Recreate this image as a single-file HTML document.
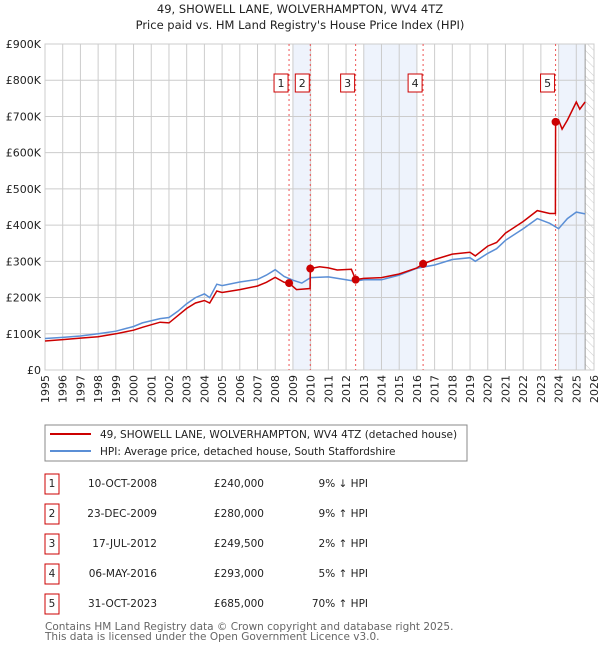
<!DOCTYPE html>
<html><head><meta charset="utf-8"><style>
body{margin:0;background:#fff;font-family:"DejaVu Sans","Liberation Sans",sans-serif;}
svg text{font-family:"DejaVu Sans","Liberation Sans",sans-serif;}
</style></head><body>
<svg id="c" width="600" height="650" xmlns="http://www.w3.org/2000/svg">
<defs><pattern id="hatch" width="6" height="6" patternUnits="userSpaceOnUse" patternTransform="rotate(-45)"><line x1="0" y1="0" x2="0" y2="6" stroke="#ccc" stroke-width="1"/></pattern></defs>
<text x="300" y="13" text-anchor="middle" font-size="11.5" fill="#222">49, SHOWELL LANE, WOLVERHAMPTON, WV4 4TZ</text>
<text x="300" y="29" text-anchor="middle" font-size="11.5" fill="#222">Price paid vs. HM Land Registry's House Price Index (HPI)</text>
<g id="plot"></g>
<rect x="45" y="425" width="422" height="36" fill="#fff" stroke="#888"/>
<line x1="50" y1="434" x2="91" y2="434" stroke="#cc0000" stroke-width="2"/>
<text x="100" y="438" font-size="10.5" fill="#222">49, SHOWELL LANE, WOLVERHAMPTON, WV4 4TZ (detached house)</text>
<line x1="50" y1="451" x2="91" y2="451" stroke="#5b8fd6" stroke-width="2"/>
<text x="100" y="455" font-size="10.5" fill="#222">HPI: Average price, detached house, South Staffordshire</text>
<g id="table"></g>
<text x="45" y="630" font-size="10.5" fill="#666">Contains HM Land Registry data © Crown copyright and database right 2025.</text>
<text x="45" y="640" font-size="10.5" fill="#666">This data is licensed under the Open Government Licence v3.0.</text>
</svg>
<script>
const hpiT=[1995,1996,1997,1998,1999,2000,2000.5,2001.5,2002,2002.5,2003,2003.5,2004,2004.3,2004.7,2005,2006,2007,2007.5,2008,2008.5,2009,2009.5,2010,2011,2012,2012.5,2013,2014,2015,2016,2017,2018,2019,2019.3,2020,2020.5,2021,2022,2022.8,2023.5,2024,2024.5,2025,2025.5];
const hpiV=[87,90,94,100,107,120,130,142,145,162,183,200,210,200,237,233,243,250,262,277,258,248,240,255,257,249,245,249,249,262,281,290,305,310,300,322,335,358,390,418,405,390,418,436,431];
const redT=[1995,1996,1997,1998,1999,2000,2000.5,2001.5,2002,2002.5,2003,2003.5,2004,2004.3,2004.7,2005,2006,2007,2007.5,2008,2008.5,2008.78,2009.2,2009.97,2009.98,2010.5,2011,2011.5,2012.3,2012.54,2013,2014,2015,2016,2016.35,2017,2018,2019,2019.3,2020,2020.5,2021,2022,2022.8,2023.5,2023.82,2023.83,2024,2024.2,2024.5,2025,2025.2,2025.5];
const redV=[80,84,88,92,100,110,118,132,130,150,170,185,192,185,218,214,222,232,242,256,242,240,222,225,280,285,282,276,278,249.5,253,255,265,282,293,305,320,325,315,342,352,378,410,440,432,432,685,690,665,690,740,720,740];
const saleT=[2008.78,2009.98,2012.54,2016.35,2023.83];
const saleV=[240,280,249.5,293,685];
const saleLabels=["1","2","3","4","5"];
const saleDates=["10-OCT-2008","23-DEC-2009","17-JUL-2012","06-MAY-2016","31-OCT-2023"];
const salePrices=["£240,000","£280,000","£249,500","£293,000","£685,000"];
const saleHpi=["9% ↓ HPI","9% ↑ HPI","2% ↑ HPI","5% ↑ HPI","70% ↑ HPI"];
const yTicks=[0,100,200,300,400,500,600,700,800,900];
const yTickLabels=["£0","£100K","£200K","£300K","£400K","£500K","£600K","£700K","£800K","£900K"];
const xYears=[1995,1996,1997,1998,1999,2000,2001,2002,2003,2004,2005,2006,2007,2008,2009,2010,2011,2012,2013,2014,2015,2016,2017,2018,2019,2020,2021,2022,2023,2024,2025,2026];
const bands=[[2009,2010],[2013,2016],[2024,2025.5]];

const X0=45,X1=594,Y0=370,Y1=44;
const x=t=>X0+(t-1995)/31*(X1-X0);
const y=v=>Y0-v/900*(Y0-Y1);
const NS="http://www.w3.org/2000/svg";
function mk(tag,attrs,parent,txt){const e=document.createElementNS(NS,tag);for(const k in attrs)e.setAttribute(k,attrs[k]);if(txt!==undefined)e.textContent=txt;parent.appendChild(e);return e;}
const P=document.getElementById('plot');
bands.forEach(b=>{const r=mk('rect',{x:x(b[0]),y:Y1,width:x(b[1])-x(b[0]),height:Y0-Y1,fill:'#eef3fc'},P);

});
const h=mk('rect',{x:x(2025.5),y:Y1,width:X1-x(2025.5),height:Y0-Y1,fill:'url(#hatch)'},P);


mk('line',{x1:x(2025.5),y1:Y1,x2:x(2025.5),y2:Y0,stroke:'#999'},P);
xYears.forEach(t=>{const l=mk('line',{x1:x(t),y1:Y1,x2:x(t),y2:Y0,stroke:'#ccc'},P);


const tx=mk('text',{x:0,y:0,'font-size':11,fill:'#222','text-anchor':'end',transform:`translate(${x(t)+4},${Y0+5}) rotate(-90)`},P,String(t));

});
yTicks.forEach((v,i)=>{const l=mk('line',{x1:X0,y1:y(v),x2:X1,y2:y(v),stroke:'#ccc'},P);


const tx=mk('text',{x:X0-4,y:y(v)+4,'font-size':11,fill:'#222','text-anchor':'end'},P,yTickLabels[i]);

});
mk('rect',{x:X0,y:Y1,width:X1-X0,height:Y0-Y1,fill:'none',stroke:'#ccc'},P);
saleT.forEach((t,i)=>{const l=mk('line',{x1:x(t),y1:Y1,x2:x(t),y2:Y0,stroke:'#e55','stroke-dasharray':'2,3','stroke-width':1},P);

});
const path=(T,V)=>T.map((t,i)=>(i?'L':'M')+x(t).toFixed(1)+','+y(V[i]).toFixed(1)).join('');
const hl=mk('path',{d:path(hpiT,hpiV),fill:'none',stroke:'#5b8fd6','stroke-width':1.5},P);


const rl=mk('path',{d:path(redT,redV),fill:'none',stroke:'#cc0000','stroke-width':1.5},P);


saleT.forEach((t,i)=>{const c=mk('circle',{cx:x(t),cy:y(saleV[i]),r:4,fill:'#cc0000'},P);


const g=mk('g',{},P);


mk('rect',{x:x(t)-15,y:74,width:14,height:18,fill:'#fff',stroke:'#cc0000'},g);
mk('text',{x:x(t)-8,y:87,'font-size':11,'text-anchor':'middle',fill:'#222'},g,saleLabels[i]);});
const T=document.getElementById('table');
saleT.forEach((t,i)=>{const yy=483+i*30;
const g=mk('g',{},T);


mk('rect',{x:45,y:yy-9,width:14,height:20,fill:'#fff',stroke:'#cc0000'},g);
mk('text',{x:52,y:yy+4,'font-size':10.5,'text-anchor':'middle',fill:'#222'},g,saleLabels[i]);
mk('text',{x:157,y:yy+4,'font-size':10.5,'text-anchor':'end',fill:'#222'},g,saleDates[i]);
mk('text',{x:264,y:yy+4,'font-size':10.5,'text-anchor':'end',fill:'#222'},g,salePrices[i]);
mk('text',{x:368,y:yy+4,'font-size':10.5,'text-anchor':'end',fill:'#222'},g,saleHpi[i]);});
</script>
</body></html>
